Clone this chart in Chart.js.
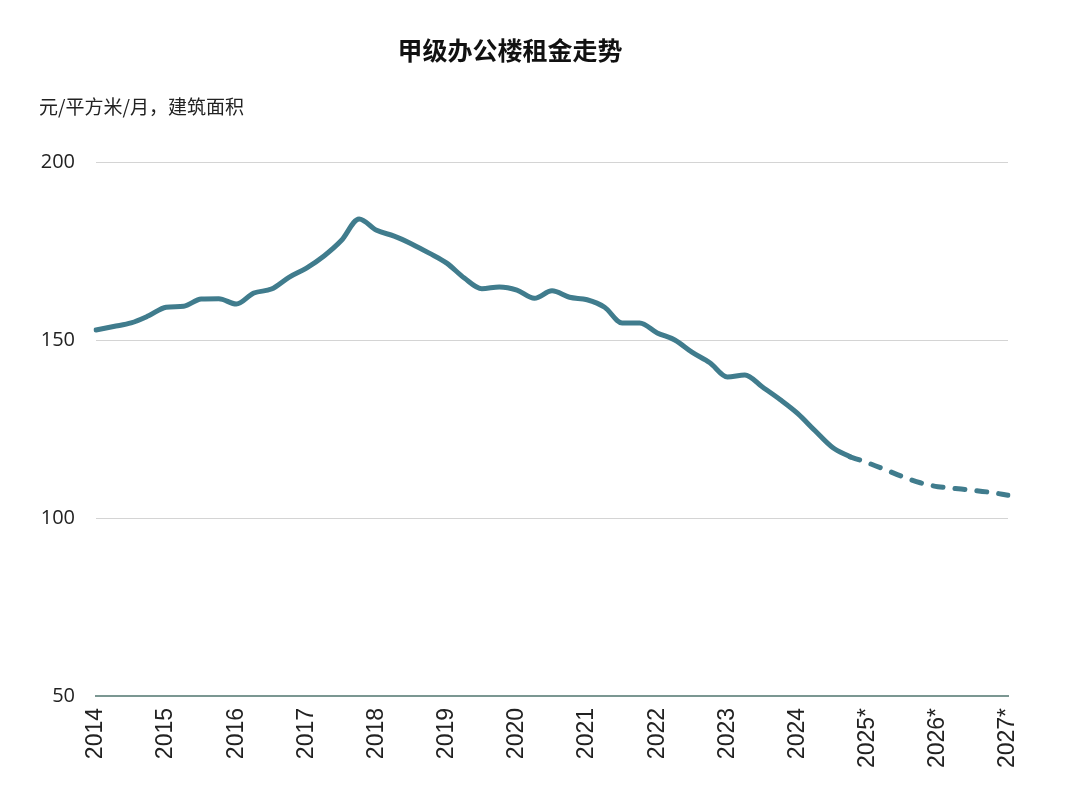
<!DOCTYPE html>
<html>
<head>
<meta charset="utf-8">
<script src="https://cdn.jsdelivr.net/npm/chart.js@4"></script>
<style>
  html, body { margin:0; padding:0; background:#fff; }
  #wrap { width:1080px; height:802px; position:relative; }
</style>
</head>
<body>
<div id="wrap"><canvas id="c" width="1080" height="802"></canvas></div>
<script>
// 甲级办公楼租金 (元/平方米/月) - quarterly, 2014Q1 .. 2027Q1
const years      = ['2014','2015','2016','2017','2018','2019','2020','2021','2022','2023','2024','2025*','2026*','2027*'];
const titleText  = '甲级办公楼租金走势';
const unitText   = '元/平方米/月，建筑面积';
const yTicks     = [50, 100, 150, 200];

// actual, 2014Q1 .. 2024Q4
const actualRent = [
  152.8, 153.8, 154.8, 156.8,
  159.2, 159.5, 161.5, 161.6,
  160.1, 163.2, 164.3, 167.6,
  170.2, 173.6, 178.0, 184.0,
  180.8, 179.2, 177.0, 174.4,
  171.6, 167.4, 164.4, 164.9,
  164.0, 161.7, 163.8, 162.0,
  161.3, 159.2, 154.8, 154.8,
  152.0, 150.0, 146.5, 143.6,
  139.6, 140.2, 136.8, 133.3,
  129.4, 124.5, 119.8, 117.2
];
// forecast, starting from the last actual point (2024Q4 .. 2027Q1)
const forecastRent = [117.2, 115.5, 113.6, 111.6, 109.9, 108.8, 108.3, 107.8, 107.2, 106.4];

const lineColor = '#407c8d';

// quarter labels, one per point
const labels = [];
years.forEach((y, i) => {
  if (i < years.length - 1) ['Q1','Q2','Q3','Q4'].forEach(q => labels.push(y + ' ' + q));
  else labels.push(y + ' Q1');
});

const actualData   = labels.map((_, i) => i < actualRent.length ? actualRent[i] : null);
const fcStart      = actualRent.length - 1;
const forecastData = labels.map((_, i) => i >= fcStart && i - fcStart < forecastRent.length ? forecastRent[i - fcStart] : null);

const textPlugin = {
  id: 'texts',
  afterDraw(chart) {
    const ctx = chart.ctx;
    ctx.save();
    ctx.fillStyle = '#111';
    ctx.textBaseline = 'middle';
    ctx.font = 'bold 25px "Noto Sans CJK SC", sans-serif';
    ctx.textAlign = 'center';
    ctx.fillText(titleText, 510, 50);
    ctx.font = '19px "Noto Sans CJK SC", sans-serif';
    ctx.textAlign = 'left';
    ctx.fillStyle = '#222';
    ctx.fillText(unitText, 39, 107);
    ctx.restore();
  }
};

new Chart(document.getElementById('c'), {
  type: 'line',
  data: {
    labels,
    datasets: [
      { data: actualData, borderColor: lineColor, borderWidth: 5, pointRadius: 0,
        cubicInterpolationMode: 'monotone', borderCapStyle: 'round', borderJoinStyle: 'round', fill: false },
      { data: forecastData, borderColor: lineColor, borderWidth: 5, pointRadius: 0,
        cubicInterpolationMode: 'monotone', borderDash: [10, 12], borderCapStyle: 'round', fill: false }
    ]
  },
  options: {
    responsive: false,
    animation: false,
    devicePixelRatio: 1,
    layout: { padding: { top: 162, right: 72, left: 0, bottom: 0 } },
    plugins: { legend: { display: false }, tooltip: { enabled: false } },
    scales: {
      x: {
        offset: false,
        grid: { display: false, drawTicks: false },
        border: { display: true, color: '#7b9792', width: 2 },
        afterFit: s => { s.height = 106; },
        ticks: {
          autoSkip: false, maxRotation: 90, minRotation: 90, padding: 12,
          color: '#222', font: { family: '"Liberation Sans", Arial, sans-serif', size: 23 },
          callback: (v, i) => i % 4 === 0 ? years[i / 4] : null
        }
      },
      y: {
        min: 50, max: 200,
        afterFit: s => { s.width = 96; },
        afterBuildTicks: s => { s.ticks = yTicks.map(v => ({ value: v })); },
        grid: { color: '#d4d4d4', lineWidth: 1, drawTicks: false },
        border: { display: false },
        ticks: { padding: 21, color: '#222', font: { family: '"Open Sans", sans-serif', size: 20 } }
      }
    }
  },
  plugins: [textPlugin]
});
</script>
</body>
</html>
